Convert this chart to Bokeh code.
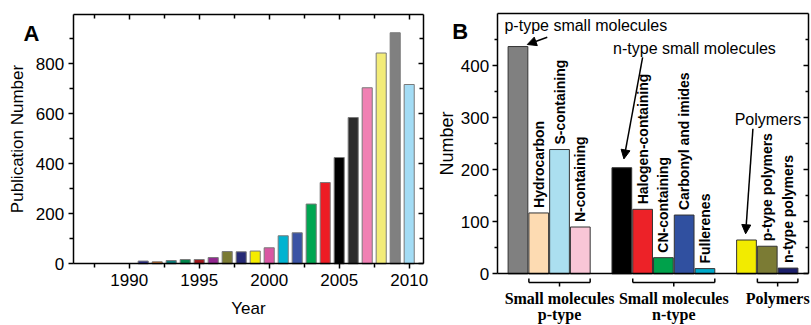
import math
from bokeh.plotting import figure
from bokeh.models import Range1d, LinearAxis, FixedTicker, Label, Arrow, NormalHead
from bokeh.layouts import row
from bokeh.embed import file_html
from bokeh.resources import INLINE
from bokeh.core.properties import value

SANS = "Liberation Sans"
SERIF = "Liberation Serif"

# ---------------- Panel A data ----------------
years = [1991, 1992, 1993, 1994, 1995, 1996, 1997, 1998, 1999, 2000,
         2001, 2002, 2003, 2004, 2005, 2006, 2007, 2008, 2009, 2010]
pubs = [11, 8, 13, 17, 17, 25, 49, 48, 51, 64,
        112, 124, 239, 325, 425, 585, 704, 843, 924, 717]
year_colors = ["#2e3192", "#e2701f", "#0b7f7d", "#00854a", "#a0151b", "#92278f",
               "#7b7b34", "#262a75", "#f5ec00", "#d957a3", "#00b3d1", "#3a53a4",
               "#00a651", "#ed1c24", "#000000", "#2b2b2b", "#f081b3", "#f3ec78",
               "#808080", "#a3dcf5"]
a_x_major = [1990, 1995, 2000, 2005, 2010]
a_x_minor = [1987.5, 1992.5, 1997.5, 2002.5, 2007.5]
a_y_major = [0, 200, 400, 600, 800]
a_y_minor = [100, 300, 500, 700, 900]

# ---------------- Panel B data ----------------
b_names = ["p-type small molecules", "Hydrocarbon", "S-containing", "N-containing",
           "n-type small molecules", "Halogen-containing", "CN-containing",
           "Carbonyl and imides", "Fullerenes",
           "Polymers", "p-type polymers", "n-type polymers"]
b_values = [437, 117, 239, 90, 204, 124, 31, 113, 10, 65, 53, 11]
b_colors = ["#808080", "#fddbb2", "#abdff0", "#f8c6d6",
            "#000000", "#ed2228", "#00a14b", "#3050a0", "#00aacb",
            "#f2eb00", "#7b7b34", "#1c1f6b"]
b_groups = [0, 0, 0, 0, 1, 1, 1, 1, 1, 2, 2, 2]
group_line1 = ["Small molecules", "Small molecules", "Polymers"]
group_line2 = ["p-type", "n-type", ""]
b_y_major = [0, 100, 200, 300, 400]
b_y_minor = [50, 150, 250, 350, 450]

# ---------------- layout (pixels) ----------------
H = 325
A_W = 432
A_BOX = (72.7, 14.0, 422.7, 263.3)        # left, top, right, bottom of drawn frame
A_XLIM = (1986, 2011)
A_YTOP = 997
B_W = 379
B_BOX = (64.7, 13.3, 376.3, 273.3)
B_XLIM = (0, 15)
B_YTOP = 500


def ranges(W, box, xlim, ylim):
    l, t, r, b = box
    sx = (r - l) / (xlim[1] - xlim[0])
    sy = (b - t) / (ylim[1] - ylim[0])
    xr = Range1d(xlim[0] - l / sx, xlim[1] + (W - r) / sx)
    yr = Range1d(ylim[0] - (H - b) / sy, ylim[1] + t / sy)
    return xr, yr, sx, sy


def make_axis(fixed, bounds, major=(), minor=(), t_in=0, t_out=0, m_in=0, m_out=0,
              labels=True, size="17px", standoff=4, title=None, title_size="17px",
              title_standoff=5):
    ax = LinearAxis(fixed_location=fixed, bounds=bounds,
                    ticker=FixedTicker(ticks=list(major), minor_ticks=list(minor)))
    ax.axis_line_color = "black"
    ax.axis_line_width = 1.5
    ax.major_tick_line_color = "black"
    ax.major_tick_line_width = 1.5
    ax.minor_tick_line_color = "black"
    ax.minor_tick_line_width = 1.5
    ax.major_tick_in = t_in
    ax.major_tick_out = t_out
    ax.minor_tick_in = m_in
    ax.minor_tick_out = m_out
    ax.major_label_text_font = SANS
    ax.major_label_text_font_size = size
    ax.major_label_standoff = standoff
    ax.major_label_text_color = "black" if labels else None
    if title:
        ax.axis_label = title
        ax.axis_label_text_font = SANS
        ax.axis_label_text_font_style = "normal"
        ax.axis_label_text_font_size = title_size
        ax.axis_label_text_color = "black"
        ax.axis_label_standoff = title_standoff
    return ax


def base_fig(W, xr, yr):
    p = figure(width=W, height=H, x_range=xr, y_range=yr, output_backend="svg",
               toolbar_location=None, x_axis_location=None, y_axis_location=None,
               min_border=0)
    p.grid.visible = False
    p.outline_line_color = None
    return p


# ---------------- Panel A ----------------
axr, ayr, asx, asy = ranges(A_W, A_BOX, A_XLIM, (0, A_YTOP))
pA = base_fig(A_W, axr, ayr)
pA.vbar(x=years, top=pubs, width=0.72, bottom=0, fill_color=year_colors,
        line_color="#7a7a7a", line_width=1)

pA.add_layout(make_axis(0, A_XLIM, a_x_major, a_x_minor, t_out=5, m_out=4, standoff=5,
                        title="Year", title_standoff=10), "below")
pA.add_layout(make_axis(A_XLIM[0], (0, A_YTOP), a_y_major, a_y_minor, t_out=5, m_out=4,
                        standoff=4, title="Publication Number", title_standoff=6), "left")
pA.add_layout(make_axis(A_YTOP, A_XLIM, a_x_major, a_x_minor, t_in=5, m_in=4,
                        labels=False), "above")
pA.add_layout(make_axis(A_XLIM[1], (0, A_YTOP), a_y_major, a_y_minor, t_in=5, m_in=4,
                        labels=False), "right")

pA.add_layout(Label(x=A_XLIM[0] - (A_BOX[0] - 23) / asx, y=(A_BOX[3] - 32.5) / asy,
                    text="A", text_font=SANS, text_font_style="bold",
                    text_font_size="22px", text_baseline="middle", text_align="left",
                    text_color="black"))

# ---------------- Panel B ----------------
bxr, byr, bsx, bsy = ranges(B_W, B_BOX, B_XLIM, (0, B_YTOP))
pB = base_fig(B_W, bxr, byr)

# slot positions: one empty slot between groups
b_pos = []
slot = 1
prev = b_groups[0]
for g in b_groups:
    if g != prev:
        slot += 1
        prev = g
    b_pos.append(slot)
    slot += 1

pB.vbar(x=b_pos, top=b_values, width=0.95, bottom=0, fill_color=b_colors,
        line_color="#333333", line_width=1)

# rotated labels for the sub-category bars
first_idx = [b_groups.index(g) for g in sorted(set(b_groups))]
sub_idx = [i for i in range(len(b_names)) if i not in first_idx]
pB.text(x=[b_pos[i] for i in sub_idx],
        y=[b_values[i] + 5 / bsy for i in sub_idx],
        text=[b_names[i] for i in sub_idx],
        angle=math.pi / 2, text_align="left", text_baseline="middle",
        text_font=value(SANS), text_font_style="bold", text_font_size="14px",
        text_color="black")

pB.add_layout(make_axis(B_XLIM[0], (0, B_YTOP), b_y_major, b_y_minor, t_out=5, m_out=3,
                        standoff=3, title="Number", title_size="18px",
                        title_standoff=1), "left")
pB.add_layout(make_axis(B_XLIM[1], (0, B_YTOP), b_y_major, b_y_minor, t_in=5, m_in=3,
                        labels=False), "right")
pB.add_layout(make_axis(B_YTOP, B_XLIM, labels=False), "above")
pB.add_layout(make_axis(0, B_XLIM, labels=False), "below")

# callouts with arrows for the parent bars (offsets in data units from the bar)
callouts = [
    dict(i=first_idx[0], tx=-0.65, ty=477, sx=1.41, sy=455, ex=0.45, ey=4),
    dict(i=first_idx[1], tx=-0.42, ty=433, sx=1.0, sy=416, ex=0.1, ey=17),
    dict(i=first_idx[2], tx=-0.57, ty=297, sx=0.31, sy=279, ex=-0.04, ey=12),
]
for c in callouts:
    xpos = b_pos[c["i"]]
    pB.add_layout(Label(x=xpos + c["tx"], y=c["ty"], text=b_names[c["i"]],
                        text_font=SANS, text_font_size="16px", text_color="black",
                        text_align="left", text_baseline="middle"))
    pB.add_layout(Arrow(end=NormalHead(size=9, fill_color="black", line_color="black"),
                        x_start=xpos + c["sx"], y_start=c["sy"],
                        x_end=xpos + c["ex"], y_end=b_values[c["i"]] + c["ey"],
                        line_color="black", line_width=1.5))

# brackets and group labels under the frame
bx0, by0, bx1, by1 = [], [], [], []
lab_x, lab_y, lab_t = [], [], []
y_hook = -(278 - B_BOX[3]) / bsy
y_line = -(282 - B_BOX[3]) / bsy
y_notch = -(286 - B_BOX[3]) / bsy
y_t1 = -(297.5 - B_BOX[3]) / bsy
y_t2 = -(313.5 - B_BOX[3]) / bsy
for g in sorted(set(b_groups)):
    subs = [b_pos[i] for i in sub_idx if b_groups[i] == g]
    left = min(subs) - 0.475
    right = max(subs) + 0.475
    mid = (left + right) / 2
    for (xs, ys, xe, ye) in [(left, y_line, right, y_line),
                             (left, y_line, left, y_hook),
                             (right, y_line, right, y_hook),
                             (mid, y_line, mid, y_notch)]:
        bx0.append(xs); by0.append(ys); bx1.append(xe); by1.append(ye)
    lab_x.append(mid); lab_y.append(y_t1); lab_t.append(group_line1[g])
    if group_line2[g]:
        lab_x.append(mid); lab_y.append(y_t2); lab_t.append(group_line2[g])

pB.segment(x0=bx0, y0=by0, x1=bx1, y1=by1, line_color="black", line_width=1.5)
pB.text(x=lab_x, y=lab_y, text=lab_t, text_align="center", text_baseline="middle",
        text_font=value(SERIF), text_font_style="bold", text_font_size="16px",
        text_color="black")

pB.add_layout(Label(x=B_XLIM[0] - (B_BOX[0] - (451.7 - A_W)) / bsx,
                    y=(B_BOX[3] - 31) / bsy,
                    text="B", text_font=SANS, text_font_style="bold",
                    text_font_size="22px", text_baseline="middle", text_align="left",
                    text_color="black"))

layout = row(pA, pB)
open("out.html", "w").write(file_html(layout, INLINE))
